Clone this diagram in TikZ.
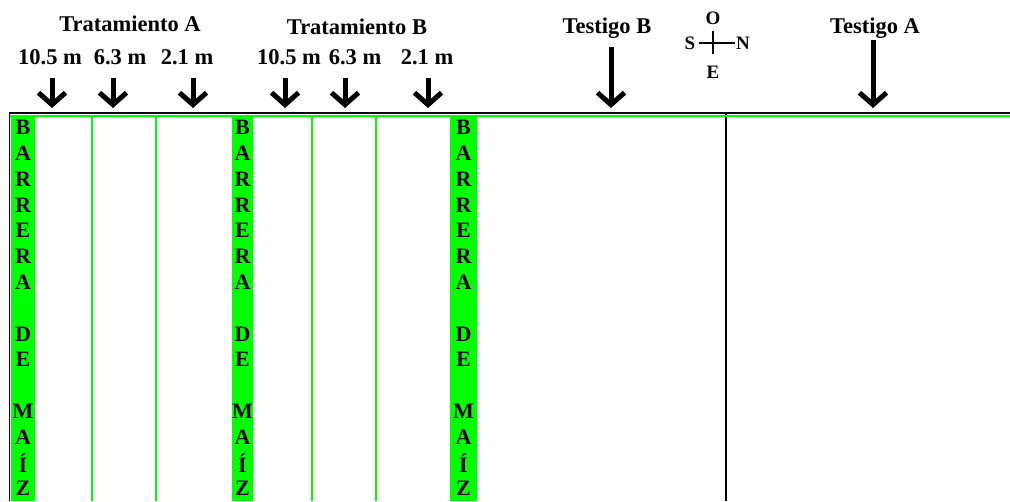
\documentclass[tikz,border=0pt]{standalone}
\usepackage{fontspec}
\setmainfont{Liberation Serif}
\usetikzlibrary{arrows.meta}
\definecolor{lime}{RGB}{0,255,0}
\tikzset{
  hdr/.style={font=\fontsize{22.5}{24}\selectfont\bfseries, inner sep=0pt, anchor=base},
  dist/.style={font=\fontsize{22.5}{24}\selectfont\bfseries, inner sep=0pt, anchor=base},
  cmp/.style={font=\fontsize{19}{20}\selectfont\bfseries, inner sep=0pt},
  ltr/.style={font=\fontsize{22}{24}\selectfont\bfseries, inner sep=0pt},
  strip/.style={fill=lime, draw=none},
  gline/.style={draw=lime, line width=1.6pt},
  darrow/.style={line width=5pt, -{Straight Barb[length=12pt, width=27pt]}},
}
\begin{document}
\begin{tikzpicture}[x=1pt, y=-1pt]
\useasboundingbox (0,0) rectangle (1010,501);
\fill[white] (0,0) rectangle (1010,501);
% barrier strips
\path[strip] (11,115) rectangle (35,501);
\path[strip] (232,115) rectangle (253,501);
\path[strip] (450,115) rectangle (477,501);
% plot lines
\draw[gline] (92,115) -- (92,501);
\draw[gline] (156,115) -- (156,501);
\draw[gline] (312,115) -- (312,501);
\draw[gline] (376,115) -- (376,501);
\draw[black, line width=1.4pt] (726,114) -- (726,501);
\draw[draw=lime, line width=2.2pt] (10,115.8) -- (1010,115.8);
\draw[black, line width=1.6pt] (9.5,501) -- (9.5,113) -- (1010,113);
% barrier letters
\foreach \xs/\sn in {23/a, 242.5/b, 463.5/c}{
  \foreach \ch [count=\i from 0] in {B,A,R,R,E,R,A,{},D,E,{},M,A,Í,Z}{
    \node[ltr] (l\sn\i) at (\xs, 127.5+25.8*\i) {\ch};
  }
}
% headers
\node[hdr] (ta) at (130,31) {Tratamiento A};
\node[hdr] (tb) at (357,34) {Tratamiento B};
\node[dist] (da1) at (50,64) {10.5 m};
\node[dist] (da2) at (120,64) {6.3 m};
\node[dist] (da3) at (187,64) {2.1 m};
\node[dist] (db1) at (289,64) {10.5 m};
\node[dist] (db2) at (355,64) {6.3 m};
\node[dist] (db3) at (427,64) {2.1 m};
\node[hdr] (tsb) at (607,33) {Testigo B};
\node[hdr] (tsa) at (875,33) {Testigo A};
% arrows
\foreach \n/\x in {a1/52, a2/113, a3/193, b1/285, b2/345, b3/428}{
  \coordinate (\n s) at (\x,78);
  \coordinate (\n e) at (\x,108);
  \draw[darrow] (\n s) -- (\n e);
}
\coordinate (tbs) at (611,47);
\coordinate (tbe) at (611,108);
\draw[darrow] (tbs) -- (tbe);
\coordinate (tas) at (873,40);
\coordinate (tae) at (873,108);
\draw[darrow] (tas) -- (tae);
% compass
\node[cmp] (co) at (713,18) {O};
\node[cmp] (cs) at (690,43) {S};
\node[cmp] (cn) at (743,43) {N};
\node[cmp] (ce) at (713,72) {E};
\coordinate (cw1) at (699,43);
\coordinate (cw2) at (735,43);
\coordinate (cv1) at (713,31);
\coordinate (cv2) at (713,54);
\draw[line width=1.1pt] (cw1) -- (cw2);
\draw[line width=1.1pt] (cv1) -- (cv2);
\end{tikzpicture}
\end{document}
